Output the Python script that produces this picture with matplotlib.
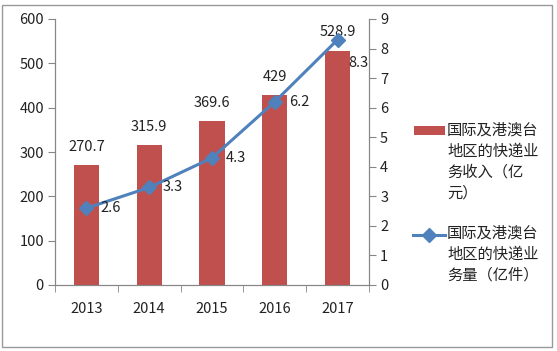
import matplotlib
matplotlib.use("Agg")
import matplotlib.pyplot as plt
from matplotlib.lines import Line2D
from matplotlib.patches import Rectangle

plt.rcParams['font.family'] = ['Noto Sans CJK SC', 'DejaVu Sans']

years = ["2013", "2014", "2015", "2016", "2017"]
revenue = [270.7, 315.9, 369.6, 429, 528.9]
volume = [2.6, 3.3, 4.3, 6.2, 8.3]
revenue_labels = ["270.7", "315.9", "369.6", "429", "528.9"]
volume_labels = ["2.6", "3.3", "4.3", "6.2", "8.3"]
label_rev = "国际及港澳台\n地区的快递业\n务收入（亿\n元）"
label_vol = "国际及港澳台\n地区的快递业\n务量（亿件）"

W, H = 557, 351
fig = plt.figure(figsize=(W/100, H/100), dpi=100)
ax = fig.add_axes([55/W, 1-285/H, (369-55)/W, (285-19)/H])
ax2 = ax.twinx()

red = "#C0504D"
blue = "#4F81BD"
gray = "#868686"
x = list(range(len(years)))
ax.bar(x, revenue, width=0.4, color=red, zorder=2)
ax.set_xlim(-0.5, 4.5)
ax.set_ylim(0, 600)
ax.set_yticks(range(0, 601, 100))
ax2.set_ylim(0, 9)
ax2.set_yticks(range(0, 10))
ax2.plot(x, volume, color=blue, lw=2.2, marker="D", ms=7, zorder=3)

for xi, v, t in zip(x, revenue, revenue_labels):
    ax.annotate(t, (xi, v), xytext=(0, 8), textcoords="offset points",
                ha="center", va="bottom", fontsize=10.5, color="#222222")
for i, (xi, v, t) in enumerate(zip(x, volume, volume_labels)):
    off = (8, -17) if i == 4 else (10, 0)
    ax2.annotate(t, (xi, v), xytext=off, textcoords="offset points",
                 ha="left", va="center", fontsize=10.5, color="#222222")

ax.set_xticks(x)
ax.set_xticklabels(years)
ax.tick_params(axis='x', length=0, pad=12, labelsize=10.5, labelcolor="#222222")
ax.set_xticks([i - 0.5 for i in range(6)], minor=True)
ax.tick_params(axis='x', which='minor', length=5, color=gray, direction='out')
ax.tick_params(axis='y', length=5, color=gray, labelsize=10.5, labelcolor="#222222", pad=3)
ax2.tick_params(axis='y', length=5, color=gray, labelsize=10.5, labelcolor="#222222", pad=3)

for a in (ax, ax2):
    a.spines["top"].set_visible(False)
    a.spines["left"].set_color(gray)
    a.spines["right"].set_color(gray)
    a.spines["bottom"].set_color(gray)
    a.patch.set_visible(False)

# legend drawn manually to mimic the Excel style (handle aligned with first line)
def fx(px):
    return px / W
def fy(py):
    return 1 - py / H

fig.patches.append(Rectangle((fx(414), fy(135)), (445-414)/W, 9/H,
                             transform=fig.transFigure, facecolor=red, edgecolor="none"))
fig.lines.append(Line2D([fx(413), fx(445)], [fy(235), fy(235)], transform=fig.transFigure,
                        color=blue, lw=2.2))
fig.lines.append(Line2D([fx(429)], [fy(235)], transform=fig.transFigure,
                        color=blue, marker="D", ms=7, lw=0))
fig.text(fx(447), fy(131), label_rev, ha="left", va="baseline", fontsize=11,
         linespacing=1.3, color="#222222") if False else None
t1 = fig.text(fx(447), fy(122), label_rev, ha="left", va="top", fontsize=11,
              linespacing=1.3, color="#222222")
t2 = fig.text(fx(447), fy(225), label_vol, ha="left", va="top", fontsize=11,
              linespacing=1.3, color="#222222")

fig.patches.append(Rectangle((2/W, 4/H), (552-2)/W, (346-4)/H, transform=fig.transFigure,
                             fill=False, edgecolor="#999999", lw=1))
fig.savefig("out.png", dpi=100)
